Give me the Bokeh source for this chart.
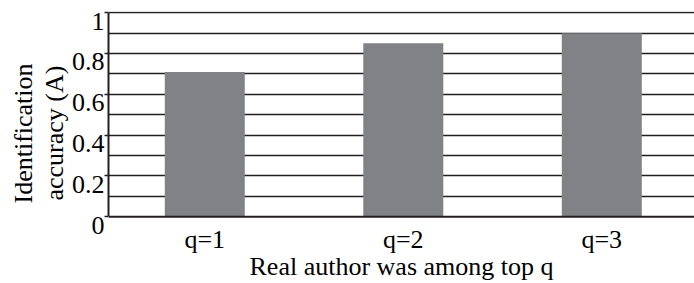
from bokeh.plotting import figure
from bokeh.models import Range1d, FixedTicker, LinearAxis, Title, Span
from bokeh.embed import file_html
from bokeh.resources import INLINE

# ---- data ----
categories = ["q=1", "q=2", "q=3"]
accuracy = [0.71, 0.85, 0.90]
y_tick_values = [0, 0.2, 0.4, 0.6, 0.8, 1]
y_tick_labels = ["0", "0.2", "0.4", "0.6", "0.8", "1"]
grid_values = [0.1, 0.2, 0.3, 0.4, 0.5, 0.6, 0.7, 0.8, 0.9, 1.0]
x_title = "Real author was among top q"
y_title_line1 = "Identification"
y_title_line2 = "accuracy (A)"

FONT = "Liberation Serif"
FS = "26px"
INK = "#231f20"
BAR = "#818285"

xs = [i + 1 for i in range(len(categories))]
unit_px = 209.7                 # pixels per unit of accuracy
label_shift = 8.5 / unit_px     # tick labels sit a little below their lines

xr = Range1d(0.515, 3.467)
yr = Range1d(-10 / unit_px, 1 + 1.3 / unit_px)
p = figure(width=694, height=283, output_backend="svg", toolbar_location=None,
           x_range=xr, y_range=yr,
           min_border_left=108, min_border_right=0, min_border_top=11, min_border_bottom=51)
p.extra_y_ranges = {"lab": Range1d(yr.start + label_shift, yr.end + label_shift)}
p.outline_line_color = None
p.background_fill_color = "white"
p.border_fill_color = "white"

p.vbar(x=xs, top=accuracy, bottom=0, width=0.403, fill_color=BAR, line_color=None)

p.xgrid.visible = False
p.ygrid.ticker = FixedTicker(ticks=grid_values)
p.ygrid.grid_line_color = INK
p.ygrid.grid_line_width = 1.4

# baseline of the value axis
p.add_layout(Span(location=0, dimension="width", line_color=INK, line_width=2))

# main y axis: line and ticks only
ya = p.yaxis[0]
ya.bounds = (0, 1)
ya.ticker = FixedTicker(ticks=y_tick_values)
ya.axis_line_color = INK
ya.axis_line_width = 2
ya.major_tick_line_color = INK
ya.major_tick_line_width = 1.4
ya.major_tick_in = 0
ya.major_tick_out = 4
ya.minor_tick_line_color = None
ya.major_label_standoff = 0
ya.major_label_overrides = {v: "" for v in y_tick_values}

# label-only y axis (shifted slightly down)
yb = LinearAxis(y_range_name="lab",
                ticker=FixedTicker(ticks=y_tick_values),
                axis_line_color=None, major_tick_line_color=None,
                major_tick_in=0, major_tick_out=0, minor_tick_line_color=None,
                major_label_standoff=0,
                major_label_overrides={v: t for v, t in zip(y_tick_values, y_tick_labels)},
                major_label_text_font=FONT, major_label_text_font_size=FS,
                major_label_text_color="black")
p.add_layout(yb, "left")

# y axis title lines
p.add_layout(Title(text=y_title_line2, align="left", offset=26, standoff=0,
                   text_font=FONT, text_font_size=FS, text_font_style="normal",
                   text_color="black"), "left")
p.add_layout(Title(text=y_title_line1, align="left", offset=23, standoff=0,
                   text_font=FONT, text_font_size=FS, text_font_style="normal",
                   text_color="black"), "left")

# x axis (labels only; the baseline is the span above)
xa = p.xaxis[0]
xa.ticker = FixedTicker(ticks=xs)
xa.major_label_overrides = {x: c for x, c in zip(xs, categories)}
xa.axis_line_color = None
xa.major_tick_line_color = None
xa.major_tick_in = 0
xa.major_tick_out = 0
xa.minor_tick_line_color = None
xa.major_label_standoff = -2
xa.major_label_text_font = FONT
xa.major_label_text_font_size = FS
xa.major_label_text_color = "black"
xa.axis_label = x_title
xa.axis_label_standoff = -5
xa.axis_label_text_font = FONT
xa.axis_label_text_font_size = FS
xa.axis_label_text_font_style = "normal"
xa.axis_label_text_color = "black"

open("out.html", "w").write(file_html(p, INLINE))
